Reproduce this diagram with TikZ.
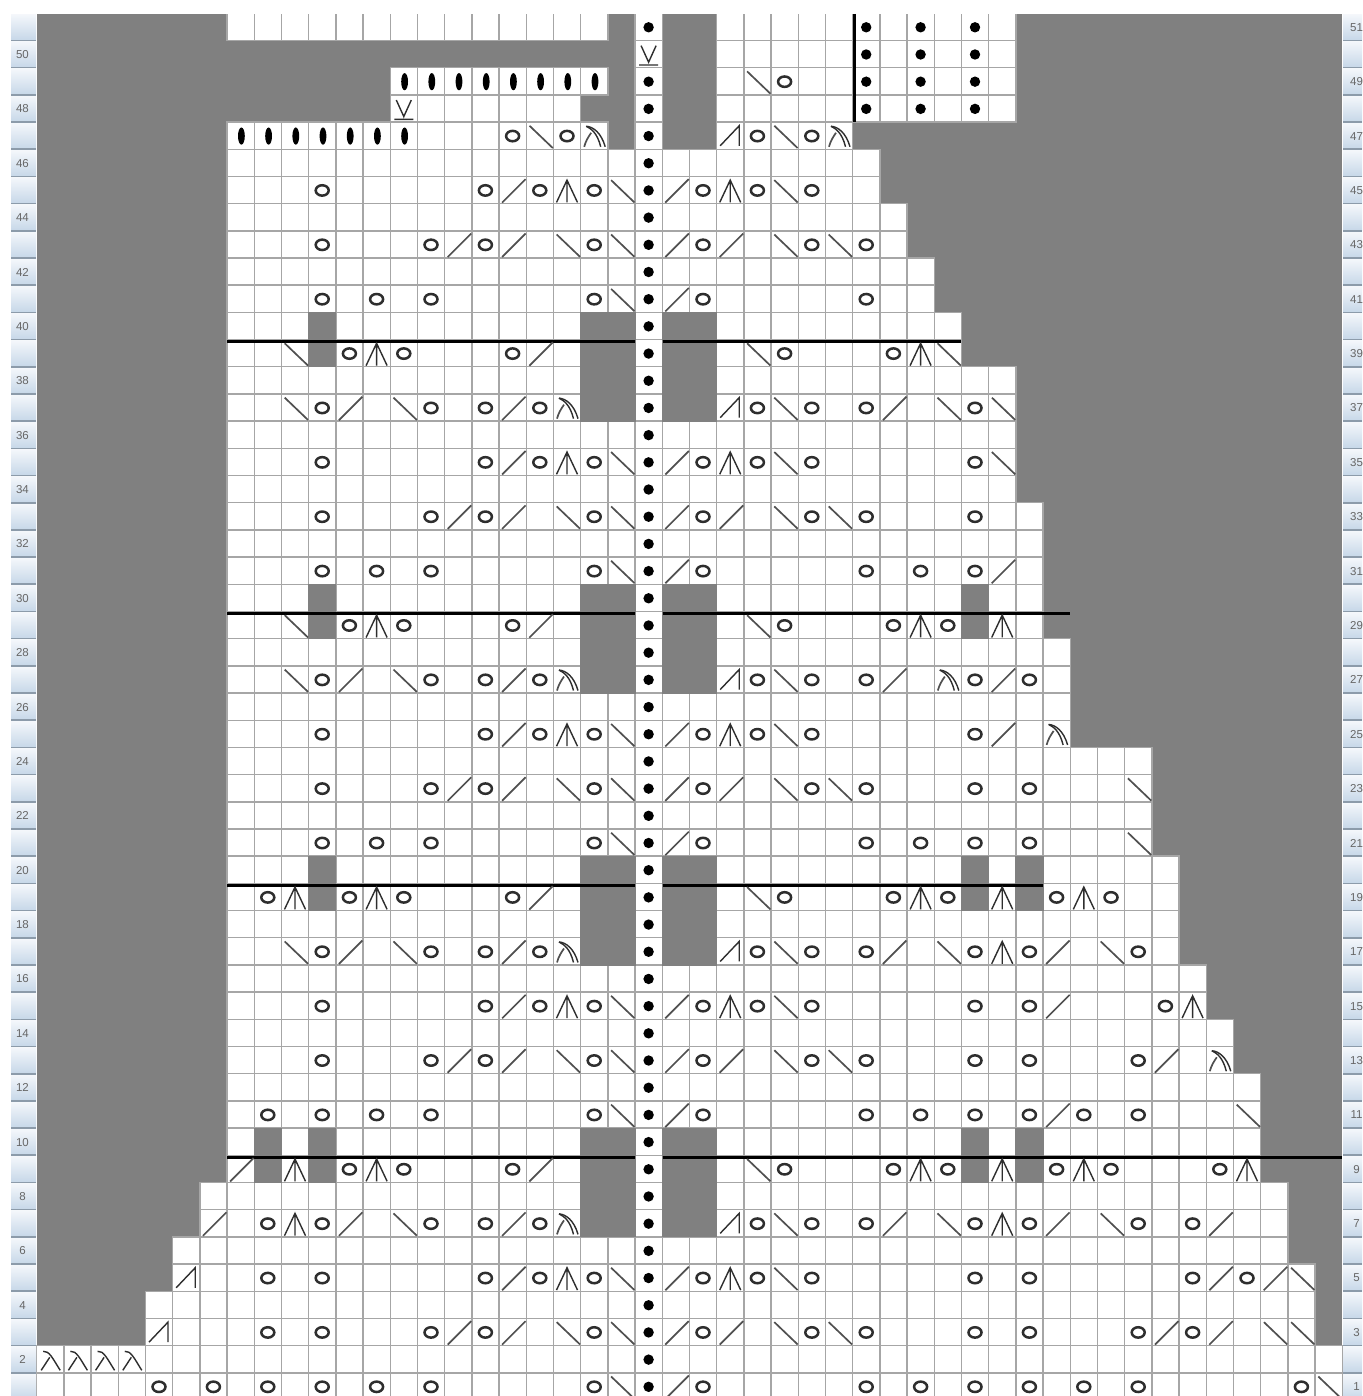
\documentclass[tikz,border=0pt]{standalone}
\usepackage{fontspec}
\setmainfont{Liberation Sans}
\definecolor{cellgray}{HTML}{808080}
\definecolor{gridgray}{HTML}{A6A6A6}
\definecolor{symdark}{HTML}{2E2E2E}
\definecolor{symline}{HTML}{505050}
\definecolor{barlight}{HTML}{F4F7FB}
\definecolor{bardark}{HTML}{C6D7E8}
\definecolor{barsep}{HTML}{8C9BAA}
\definecolor{labelgray}{HTML}{666666}
\tikzset{
  gridcell/.style={fill=white,draw=gridgray,line width=1.4pt},
  graycell/.style={fill=cellgray,draw=none},
  thickrule/.style={draw=black,line width=3pt},
  strokeA/.style={draw=symline,line width=1.7pt},
  strokeB/.style={draw=symdark,line width=1.4pt},
  yoring/.style={draw=symdark,line width=2.5pt},
  barlabel/.style={text=labelgray,inner sep=0pt,font=\fontsize{11.5}{12}\selectfont}
}
% geometry helpers (px)
\newcommand{\colL}[1]{(36.6+27.2*(#1))}
\newcommand{\rowT}[1]{(13.3+27.19*(51-(#1)))}
% symbols, centred on the cell
\newcommand{\symo}{\draw[yoring] (0,0) ellipse [x radius=6.5pt,y radius=5.2pt];}
\newcommand{\symf}{\draw[strokeA] (-10.5,12.2) -- (13,-11.3);}
\newcommand{\symb}{\draw[strokeA] (-10.3,-10.3) -- (13,12);}
\newcommand{\syma}{\draw[strokeB] (-10.5,12) -- (0,-10.3) -- (10.5,12) (0,-10.3) -- (0,12);}
\newcommand{\symd}{\fill[black] (0,0) circle [radius=5.2pt];}
\newcommand{\syme}{\fill[black] (0.8,0) ellipse [x radius=3.4pt,y radius=8.6pt];}
\newcommand{\symv}{\draw[strokeB] (-7.5,-8.8) -- (0,7.7) -- (7.5,-8.8) (-9.5,10.5) -- (9.5,10.5);}
\newcommand{\symc}{\draw[strokeB] (-8,-9.8) .. controls (-1,-9.3) and (7,-3.3) .. (11,10.7);
  \draw[strokeB] (-8,-9.8) .. controls (-3,-7.3) and (3,-3.3) .. (6.5,10.7);
  \draw[strokeA] (-10,10.7) .. controls (-8.5,5) and (-6,1) .. (-3,-3.3);}
\newcommand{\symg}{\draw[strokeB] (-10,9.7) -- (9,-10.3) -- (9,9.7);}
\newcommand{\syml}{\draw[strokeB] (-7,-8.3) .. controls (-1,-9.3) and (3,-0.3) .. (10,10.7);
  \draw[strokeB] (-9,10.7) -- (-0.5,-2.3);}
\newcommand{\placeSym}[3]{\begin{scope}[shift={({50.2+27.2*(#2)},{\rowT{#1}+14})}]\csname sym#3\endcsname\end{scope}}
\newcommand{\RowSyms}[2]{\foreach \mycol/\mysym in {#2}{\placeSym{#1}{\mycol}{\mysym}}}
\newcommand{\Span}[3]{\foreach \mycol in {#2,...,#3}{\draw[gridcell] ({\colL{\mycol}},{\rowT{#1}}) rectangle ++(27.2,27.19);}}
\newcommand{\SpanRows}[4]{\foreach \myrow in {#1,...,#2}{\Span{\myrow}{#3}{#4}}}
\newcommand{\GrayCells}[2]{\foreach \mycol in {#2}{\fill[graycell] ({\colL{\mycol}-0.6},{\rowT{#1}-0.6}) rectangle ++(28.4,28.4);}}
\newcommand{\Rule}[2]{\draw[thickrule] (227,{\rowT{#1}+2}) -- (634.5,{\rowT{#1}+2}) (662.5,{\rowT{#1}+2}) -- (#2,{\rowT{#1}+2});}
\begin{document}
\begin{tikzpicture}[x=1pt,y=-1pt]
\useasboundingbox (0,0) rectangle (1362,1396);
\clip (0,0) rectangle (1362,1396);
\fill[white] (0,0) rectangle (1362,1396);
% gray ground
\fill[graycell] (36.6,14) rectangle (1342,1396);
% white cells
\Span{51}{7}{20}\Span{51}{22}{22}\Span{51}{25}{35}
\Span{50}{22}{22}\Span{50}{25}{35}
\Span{49}{13}{20}\Span{49}{22}{22}\Span{49}{25}{35}
\Span{48}{13}{19}\Span{48}{22}{22}\Span{48}{25}{35}
\Span{47}{7}{20}\Span{47}{22}{22}\Span{47}{25}{29}
\SpanRows{45}{46}{7}{30}
\SpanRows{43}{44}{7}{31}
\SpanRows{41}{42}{7}{32}
\SpanRows{39}{40}{7}{33}
\SpanRows{34}{38}{7}{35}
\SpanRows{29}{33}{7}{36}
\SpanRows{25}{28}{7}{37}
\SpanRows{21}{24}{7}{40}
\SpanRows{17}{20}{7}{41}
\SpanRows{15}{16}{7}{42}
\SpanRows{13}{14}{7}{43}
\SpanRows{9}{12}{7}{44}
\SpanRows{7}{8}{6}{45}
\Span{6}{5}{45}
\Span{5}{5}{46}
\SpanRows{3}{4}{4}{46}
\SpanRows{1}{2}{0}{47}
% gray cells inside the chart
\foreach \myrow in {39,40}{\GrayCells{\myrow}{10,20,21,23,24}}
\foreach \myrow in {37,38}{\GrayCells{\myrow}{20,21,23,24}}
\foreach \myrow in {29,30}{\GrayCells{\myrow}{10,20,21,23,24,34}}
\foreach \myrow in {27,28}{\GrayCells{\myrow}{20,21,23,24}}
\foreach \myrow in {19,20}{\GrayCells{\myrow}{10,20,21,23,24,34,36}}
\foreach \myrow in {17,18}{\GrayCells{\myrow}{20,21,23,24}}
\foreach \myrow in {9,10}{\GrayCells{\myrow}{8,10,20,21,23,24,34,36}}
\foreach \myrow in {7,8}{\GrayCells{\myrow}{20,21,23,24}}
% cover above the first row
\fill[white] (0,0) rectangle (1362,14.2);
% thick rules
\Rule{39}{961}
\Rule{29}{1070}
\Rule{19}{1043}
\Rule{9}{1342}
\draw[draw=black,line width=3pt] (854,14) -- (854,122);
% centre column of dots
\foreach \myrow in {1,...,49,51}{\placeSym{\myrow}{22}{d}}
\placeSym{50}{22}{v}
% stitches
\RowSyms{51}{30/d,32/d,34/d}
\RowSyms{50}{30/d,32/d,34/d}
\RowSyms{49}{13/e,14/e,15/e,16/e,17/e,18/e,19/e,20/e,26/b,27/o,30/d,32/d,34/d}
\RowSyms{48}{13/v,30/d,32/d,34/d}
\RowSyms{47}{7/e,8/e,9/e,10/e,11/e,12/e,13/e,17/o,18/b,19/o,20/c,25/g,26/o,27/b,28/o,29/c}
\RowSyms{45}{10/o,16/o,17/f,18/o,19/a,20/o,21/b,23/f,24/o,25/a,26/o,27/b,28/o}
\RowSyms{43}{10/o,14/o,15/f,16/o,17/f,19/b,20/o,21/b,23/f,24/o,25/f,27/b,28/o,29/b,30/o}
\RowSyms{41}{10/o,12/o,14/o,20/o,21/b,23/f,24/o,30/o}
\RowSyms{39}{9/b,11/o,12/a,13/o,17/o,18/f,26/b,27/o,31/o,32/a,33/b}
\RowSyms{37}{9/b,10/o,11/f,13/b,14/o,16/o,17/f,18/o,19/c,25/g,26/o,27/b,28/o,30/o,31/f,33/b,34/o,35/b}
\RowSyms{35}{10/o,16/o,17/f,18/o,19/a,20/o,21/b,23/f,24/o,25/a,26/o,27/b,28/o,34/o,35/b}
\RowSyms{33}{10/o,14/o,15/f,16/o,17/f,19/b,20/o,21/b,23/f,24/o,25/f,27/b,28/o,29/b,30/o,34/o}
\RowSyms{31}{10/o,12/o,14/o,20/o,21/b,23/f,24/o,30/o,32/o,34/o,35/f}
\RowSyms{29}{9/b,11/o,12/a,13/o,17/o,18/f,26/b,27/o,31/o,32/a,33/o,35/a}
\RowSyms{27}{9/b,10/o,11/f,13/b,14/o,16/o,17/f,18/o,19/c,25/g,26/o,27/b,28/o,30/o,31/f,33/c,34/o,35/f,36/o}
\RowSyms{25}{10/o,16/o,17/f,18/o,19/a,20/o,21/b,23/f,24/o,25/a,26/o,27/b,28/o,34/o,35/f,37/c}
\RowSyms{23}{10/o,14/o,15/f,16/o,17/f,19/b,20/o,21/b,23/f,24/o,25/f,27/b,28/o,29/b,30/o,34/o,36/o,40/b}
\RowSyms{21}{10/o,12/o,14/o,20/o,21/b,23/f,24/o,30/o,32/o,34/o,36/o,40/b}
\RowSyms{19}{8/o,9/a,11/o,12/a,13/o,17/o,18/f,26/b,27/o,31/o,32/a,33/o,35/a,37/o,38/a,39/o}
\RowSyms{17}{9/b,10/o,11/f,13/b,14/o,16/o,17/f,18/o,19/c,25/g,26/o,27/b,28/o,30/o,31/f,33/b,34/o,35/a,36/o,37/f,39/b,40/o}
\RowSyms{15}{10/o,16/o,17/f,18/o,19/a,20/o,21/b,23/f,24/o,25/a,26/o,27/b,28/o,34/o,36/o,37/f,41/o,42/a}
\RowSyms{13}{10/o,14/o,15/f,16/o,17/f,19/b,20/o,21/b,23/f,24/o,25/f,27/b,28/o,29/b,30/o,34/o,36/o,40/o,41/f,43/c}
\RowSyms{11}{8/o,10/o,12/o,14/o,20/o,21/b,23/f,24/o,30/o,32/o,34/o,36/o,37/f,38/o,40/o,44/b}
\RowSyms{9}{7/f,9/a,11/o,12/a,13/o,17/o,18/f,26/b,27/o,31/o,32/a,33/o,35/a,37/o,38/a,39/o,43/o,44/a}
\RowSyms{7}{6/f,8/o,9/a,10/o,11/f,13/b,14/o,16/o,17/f,18/o,19/c,25/g,26/o,27/b,28/o,30/o,31/f,33/b,34/o,35/a,36/o,37/f,39/b,40/o,42/o,43/f}
\RowSyms{5}{5/g,8/o,10/o,16/o,17/f,18/o,19/a,20/o,21/b,23/f,24/o,25/a,26/o,27/b,28/o,34/o,36/o,42/o,43/f,44/o,45/f,46/b}
\RowSyms{3}{4/g,8/o,10/o,14/o,15/f,16/o,17/f,19/b,20/o,21/b,23/f,24/o,25/f,27/b,28/o,29/b,30/o,34/o,36/o,40/o,41/f,42/o,43/f,45/b,46/b}
\RowSyms{2}{0/l,1/l,2/l,3/l}
\RowSyms{1}{4/o,6/o,8/o,10/o,12/o,14/o,20/o,21/b,23/f,24/o,30/o,32/o,34/o,36/o,38/o,40/o,46/o,47/b}
% row-number bars
\foreach \myrow in {1,...,51}{
  \shade[top color=barlight,bottom color=bardark] (11,{\rowT{\myrow}+1}) rectangle (36,{\rowT{\myrow}+27.19});
  \shade[top color=barlight,bottom color=bardark] (1343,{\rowT{\myrow}+1}) rectangle (1362,{\rowT{\myrow}+27.19});
  \draw[draw=barsep,line width=1.6pt] (11,{\rowT{\myrow}+27.19}) -- (36,{\rowT{\myrow}+27.19}) (1343,{\rowT{\myrow}+27.19}) -- (1362,{\rowT{\myrow}+27.19});
}
\fill[white] (0,0) rectangle (1362,13);
\foreach \myrow in {2,4,...,50}{
  \node[barlabel,anchor=center] (L\myrow) at (22.5,{\rowT{\myrow}+14}) {\myrow};
}
\foreach \myrow in {1,3,...,51}{
  \node[barlabel,anchor=center] (R\myrow) at (1356.5,{\rowT{\myrow}+14}) {\myrow};
}
\end{tikzpicture}
\end{document}
